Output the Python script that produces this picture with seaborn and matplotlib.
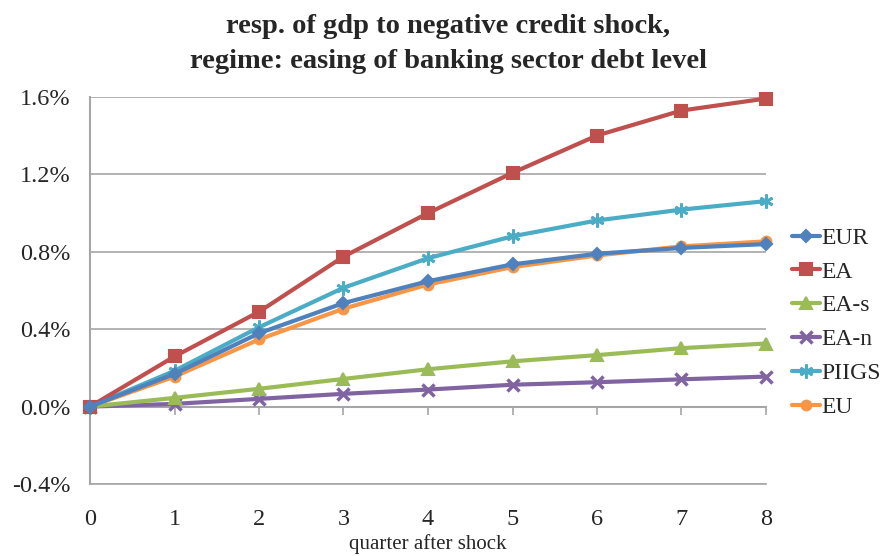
import numpy as np
import pandas as pd
import matplotlib
matplotlib.use("Agg")
import matplotlib.pyplot as plt
import seaborn as sns
from matplotlib.ticker import FuncFormatter

quarters = [0, 1, 2, 3, 4, 5, 6, 7, 8]
series_names = ["EUR", "EA", "EA-s", "EA-n", "PIIGS", "EU"]
eur = [0.0, 0.169, 0.379, 0.535, 0.648, 0.735, 0.790, 0.820, 0.840]
ea = [0.0, 0.259, 0.490, 0.775, 1.000, 1.208, 1.401, 1.530, 1.592]
ea_s = [0.0, 0.045, 0.092, 0.143, 0.193, 0.234, 0.266, 0.302, 0.326]
ea_n = [0.0, 0.014, 0.040, 0.066, 0.088, 0.113, 0.126, 0.141, 0.155]
piigs = [0.0, 0.185, 0.410, 0.614, 0.767, 0.880, 0.962, 1.018, 1.062]
eu = [0.0, 0.155, 0.347, 0.506, 0.631, 0.721, 0.781, 0.828, 0.854]
yticks = [-0.4, 0.0, 0.4, 0.8, 1.2, 1.6]

colors = {"EUR": "#4F81BD", "EA": "#C0504D", "EA-s": "#9BBB59",
          "EA-n": "#8064A2", "PIIGS": "#4BACC6", "EU": "#F79646"}
markers = {"EUR": "D", "EA": "s", "EA-s": "^", "EA-n": "x",
           "PIIGS": (6, 2, 0), "EU": "o"}
msizes = {"EUR": 6, "EA": 9, "EA-s": 8, "EA-n": 8, "PIIGS": 10, "EU": 7}
medgew = {"EUR": 1.5, "EA": 1.5, "EA-s": 1.5, "EA-n": 2.5, "PIIGS": 2.0, "EU": 1.5}

values = [eur, ea, ea_s, ea_n, piigs, eu]
df = pd.DataFrame({
    "quarter": np.tile(quarters, len(series_names)),
    "value": np.concatenate(values),
    "series": np.repeat(series_names, len(quarters)),
})

sns.set_style("white")
plt.rcParams["font.family"] = ["Liberation Serif", "DejaVu Serif"]

fig = plt.figure(figsize=(8.84, 5.56), dpi=100)
ax = fig.add_axes([90 / 884, 1 - 484 / 556, (766 - 90) / 884, (484 - 97) / 556])

grid_c = "#A6A6A6"
for i, name in enumerate(series_names):
    sub = df[df["series"] == name]
    sns.lineplot(data=sub, x="quarter", y="value", ax=ax, color=colors[name],
                 marker=markers[name], markersize=msizes[name],
                 markeredgecolor=colors[name], markeredgewidth=medgew[name],
                 linewidth=3, label=name, zorder=3 + (len(series_names) - i) * 0.01,
                 clip_on=False)

ax.set_xlim(0, 8)
ax.set_ylim(-0.4, 1.6)
ax.set_yticks(yticks)
ax.yaxis.set_major_formatter(FuncFormatter(lambda v, p: f"{v:.1f}%"))
ax.set_xticks(quarters)
ax.grid(axis="y", color=grid_c, linewidth=1.2)
ax.grid(axis="x", visible=False)
for s in ["top", "right"]:
    ax.spines[s].set_visible(False)
ax.spines["bottom"].set_color(grid_c)
ax.spines["bottom"].set_linewidth(1.2)
ax.spines["left"].set_color(grid_c)
ax.spines["left"].set_linewidth(1.5)
ax.tick_params(axis="y", length=5, color=grid_c, width=1.2, labelsize=17.5, pad=9)
ax.tick_params(axis="x", length=0, labelsize=17.5, pad=18)

# horizontal axis crossing at zero with tick marks
sec = ax.secondary_xaxis(0.2)
sec.set_xticks(quarters)
sec.tick_params(axis="x", length=6, color=grid_c, width=1.2, labelbottom=False,
                direction="out")
sec.spines["bottom"].set_color(grid_c)
sec.spines["bottom"].set_linewidth(1.5)
sec.set_xticklabels([])

ax.set_xlabel("quarter after shock", fontsize=15, labelpad=3)
ax.set_ylabel("")

handles, labels = ax.get_legend_handles_labels()
ax.legend(handles, labels, loc="center left", bbox_to_anchor=(1.038, 0.417),
          frameon=False, fontsize=17, handlelength=1.2, handletextpad=0.05,
          labelspacing=0.52, borderaxespad=0, borderpad=0)

fig.text(0.507, 1 - 33 / 556, "resp. of gdp to negative credit shock,", ha="center",
         va="baseline", fontsize=20.5, fontweight="bold")
fig.text(0.507, 1 - 68 / 556, "regime: easing of banking sector debt level", ha="center",
         va="baseline", fontsize=20.5, fontweight="bold")

fig.savefig("out.png", dpi=100)
